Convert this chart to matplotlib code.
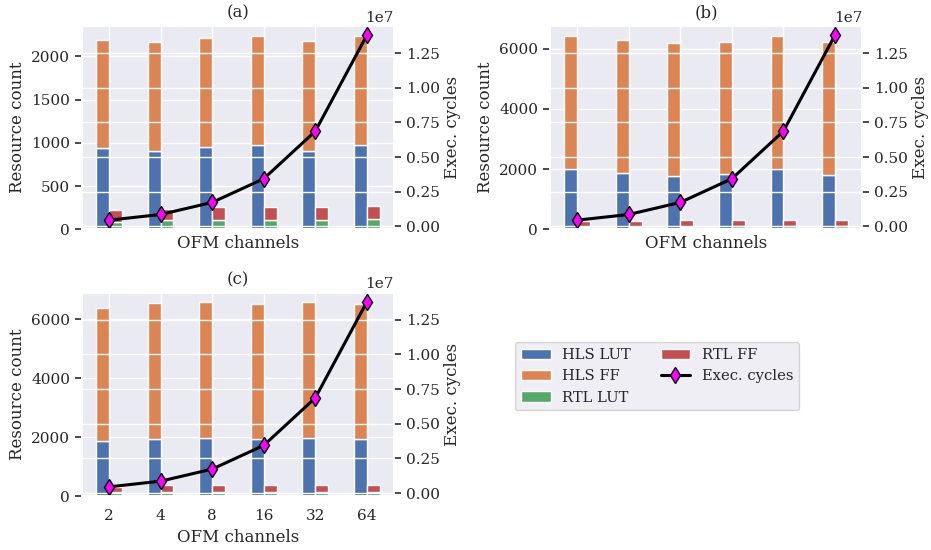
import numpy as np
import matplotlib
matplotlib.use('Agg')
import matplotlib.pyplot as plt
import seaborn as sns

sns.set_theme(style='darkgrid', context='notebook')
plt.rcParams['font.family'] = ['DejaVu Serif']

# OFM channel sweep
channels = ['2', '4', '8', '16', '32', '64']

# (a)
a_hls_lut = [937, 912, 956, 975, 912, 972]
a_hls_ff = [1258, 1260, 1258, 1258, 1268, 1270]
a_rtl_lut = [88, 105, 113, 113, 113, 120]
a_rtl_ff = [138, 136, 143, 143, 151, 148]

# (b)
b_hls_lut = [2015, 1872, 1775, 1828, 1993, 1817]
b_hls_ff = [4417, 4405, 4425, 4405, 4417, 4405]
b_rtl_lut = [90, 95, 95, 100, 100, 100]
b_rtl_ff = [185, 190, 205, 200, 200, 210]

# (c)
c_hls_lut = [1880, 1945, 1978, 1920, 1978, 1945]
c_hls_ff = [4514, 4596, 4597, 4599, 4597, 4585]
c_rtl_lut = [150, 150, 150, 150, 150, 150]
c_rtl_ff = [175, 220, 220, 220, 220, 220]

# execution cycles (same for all)
exec_cycles = [0.45e6, 0.86e6, 1.73e6, 3.44e6, 6.87e6, 13.8e6]

panels = [
    ('(a)', a_hls_lut, a_hls_ff, a_rtl_lut, a_rtl_ff),
    ('(b)', b_hls_lut, b_hls_ff, b_rtl_lut, b_rtl_ff),
    ('(c)', c_hls_lut, c_hls_ff, c_rtl_lut, c_rtl_ff),
]

fig, axes = plt.subplots(2, 2, figsize=(9.31, 5.5), dpi=100)
fig.subplots_adjust(left=0.088, right=0.926, top=0.953, bottom=0.098,
                    wspace=0.5, hspace=0.31)

x = np.arange(len(channels))
w = 0.25
colors = sns.color_palette('deep')

for ax, (title, hls_lut, hls_ff, rtl_lut, rtl_ff) in zip(axes.flat, panels):
    b1 = ax.bar(x - w / 2, hls_lut, w, color=colors[0], label='HLS LUT')
    b2 = ax.bar(x - w / 2, hls_ff, w, bottom=hls_lut, color=colors[1], label='HLS FF')
    b3 = ax.bar(x + w / 2, rtl_lut, w, color=colors[2], label='RTL LUT')
    b4 = ax.bar(x + w / 2, rtl_ff, w, bottom=rtl_lut, color=colors[3], label='RTL FF')
    ax.set_xticks(x)
    ax.set_xticklabels(channels)
    ax.set_xlabel('OFM channels')
    ax.set_ylabel('Resource count')
    ax.set_title(title, fontsize=12)
    ax.tick_params(axis='y', left=True, length=5, width=1.25, color='#333333')
    if title != '(c)':
        ax.tick_params(axis='x', labelbottom=False)

    ax2 = ax.twinx()
    ln, = ax2.plot(x, exec_cycles, color='black', lw=2.2, marker='d',
                   markersize=8, markerfacecolor='magenta',
                   markeredgecolor='black', markeredgewidth=1, label='Exec. cycles')
    ax2.set_ylabel('Exec. cycles', labelpad=3)
    ax2.tick_params(axis='y', right=True, length=5, width=1.25, color='#333333')

handles = [b1, b2, b3, b4, ln]
axes[1, 1].axis('off')
fig.legend(handles=handles, loc='center', ncol=2, bbox_to_anchor=(0.706, 0.316),
           fontsize=10.6)

fig.savefig('out.png', dpi=100)
